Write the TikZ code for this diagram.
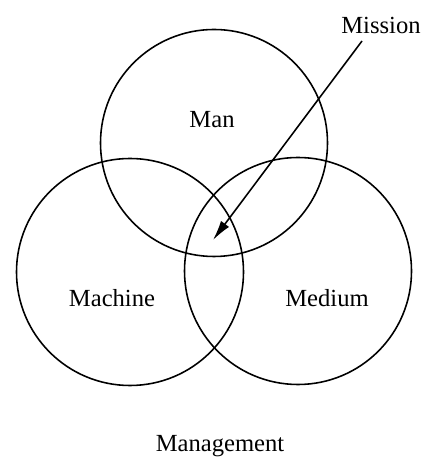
\documentclass[tikz,border=0pt]{standalone}
\usepackage{fontspec}
\setmainfont{Liberation Serif}
\usetikzlibrary{arrows.meta}
\begin{document}
\begin{tikzpicture}[ring/.style={draw, circle, line width=0.9pt, minimum size=4.54cm, inner sep=0pt},
		every node/.append style={font=\fontsize{14}{16}\selectfont}]
		\useasboundingbox (0, 0) rectangle (8.48, 9.36);
		\node[ring] (man) at (4.28, 6.50) {};
		\node[ring] (machine) at (2.60, 3.92) {};
		\node[ring] (medium) at (5.96, 3.94) {};
		\node (manlbl) at (4.24, 6.96) {Man};
		\node (machinelbl) at (2.24, 3.40) {Machine};
		\node (mediumlbl) at (6.54, 3.40) {Medium};
		\node (mission) at (7.62, 8.86) {Mission};
		\node (management) at (4.40, 0.44) {Management};
		\coordinate (tail) at (7.24, 8.54);
		\coordinate (core) at (4.26, 4.56);
		\draw[line width=0.9pt, -{Latex[length=4mm, width=2mm]}] (tail) -- (core);
	\end{tikzpicture}
\end{document}
